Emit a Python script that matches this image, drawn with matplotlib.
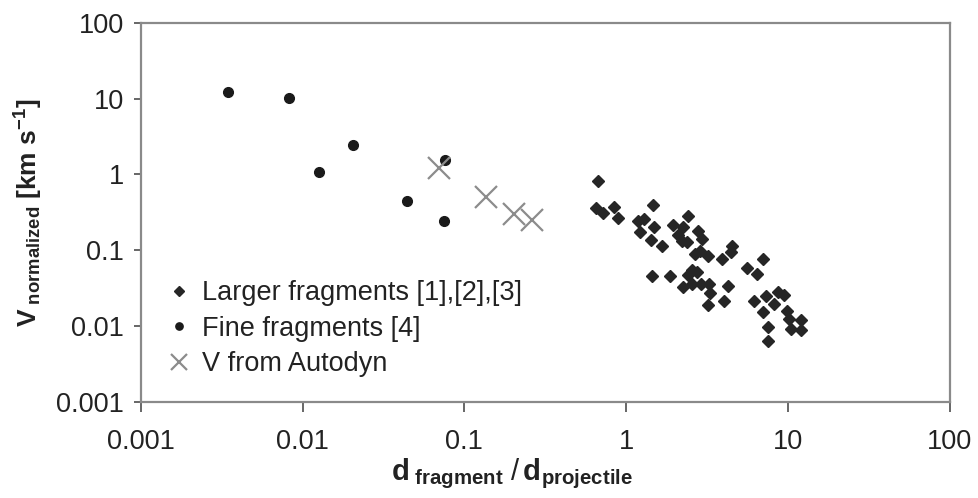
import matplotlib
matplotlib.use("Agg")
import matplotlib.pyplot as plt
from matplotlib.ticker import FixedLocator, FixedFormatter, NullLocator

plt.rcParams['font.family'] = ['Liberation Sans', 'DejaVu Sans']
plt.rcParams['mathtext.fontset'] = 'custom'
plt.rcParams['mathtext.rm'] = 'Liberation Sans'
plt.rcParams['mathtext.bf'] = 'Liberation Sans:bold'
plt.rcParams['mathtext.it'] = 'Liberation Sans:italic'

# Larger fragments [1],[2],[3]
large_x = [0.668, 0.648, 0.716, 0.838, 0.887, 1.46, 1.18, 1.28, 1.21, 1.48,
           1.42, 1.66, 2.40, 1.94, 2.24, 2.08, 2.20, 2.37, 2.77, 2.93,
           2.65, 2.85, 3.19, 4.49, 4.43, 3.89, 6.98, 5.56, 6.41, 2.54,
           2.73, 2.40, 1.44, 1.86, 2.24, 2.54, 2.89, 3.24, 3.28, 3.19,
           4.01, 4.24, 6.14, 7.28, 8.16, 8.64, 9.40, 6.98, 9.82, 10.1,
           12.0, 10.4, 12.0, 7.50, 7.50]
large_y = [0.824, 0.362, 0.311, 0.374, 0.267, 0.397, 0.244, 0.260, 0.175, 0.204,
           0.137, 0.114, 0.284, 0.216, 0.204, 0.160, 0.133, 0.129, 0.180, 0.141,
           0.0897, 0.0982, 0.0843, 0.114, 0.0953, 0.0770, 0.0770, 0.0586, 0.0489, 0.0551,
           0.0519, 0.0473, 0.0459, 0.0459, 0.0329, 0.0361, 0.0361, 0.0361, 0.0274, 0.0191,
           0.0215, 0.0339, 0.0215, 0.0250, 0.0196, 0.0283, 0.0258, 0.0154, 0.0159, 0.0124,
           0.0121, 0.00918, 0.00891, 0.00976, 0.00638]

# Fine fragments [4]
fine_x = [0.00344, 0.00824, 0.01256, 0.0205, 0.0442, 0.0759, 0.0743]
fine_y = [12.2, 10.2, 1.06, 2.46, 0.449, 1.56, 0.239]

# V from Autodyn
auto_x = [0.0695, 0.135, 0.203, 0.260]
auto_y = [1.21, 0.502, 0.302, 0.252]

tick_vals = [0.001, 0.01, 0.1, 1, 10, 100]
tick_labels = ['0.001', '0.01', '0.1', '1', '10', '100']

txt = '#222222'
spine_c = '#8a8a8a'

fig = plt.figure(figsize=(9.79, 4.98), dpi=100)
ax = fig.add_axes([140.7 / 979, 1 - 401.5 / 498, (950 - 140.7) / 979, (401.5 - 23) / 498])

ax.plot(large_x, large_y, linestyle='none', marker='D', ms=6.6, color='#262626',
        label='Larger fragments [1],[2],[3]')
ax.plot(fine_x, fine_y, linestyle='none', marker='o', ms=7.0, color='#1a1a1a',
        label='Fine fragments [4]')
ax.plot(auto_x, auto_y, linestyle='none', marker='x', ms=16, mew=1.6, color='#8c8c8c',
        label='V from Autodyn')

ax.set_xscale('log')
ax.set_yscale('log')
ax.set_xlim(0.001, 100)
ax.set_ylim(0.001, 100)
for axis in (ax.xaxis, ax.yaxis):
    axis.set_major_locator(FixedLocator(tick_vals))
    axis.set_major_formatter(FixedFormatter(tick_labels))
    axis.set_minor_locator(NullLocator())

for s in ax.spines.values():
    s.set_color(spine_c)
    s.set_linewidth(1.6)

ax.tick_params(axis='x', direction='out', length=7, width=1.4, color='#666666',
               labelsize=19.5, labelcolor=txt, pad=13)
ax.tick_params(axis='y', direction='out', length=5, width=1.4, color='#666666',
               labelsize=19.5, labelcolor=txt, pad=7)

ax.set_xlabel(r'$\mathbf{d}_{\ \mathbf{fragment}}\ /\,\mathbf{d}_{\mathbf{projectile}}$',
              fontsize=21, color=txt)
ax.xaxis.set_label_coords((512 - 140.7) / 809.3, -0.145)
ax.set_ylabel(r'$\mathbf{V}_{\ \mathbf{normalized}}\ \mathbf{[km\ s^{-1}]}$',
              fontsize=19, color=txt, labelpad=8)

leg = ax.legend(loc='lower left', bbox_to_anchor=(0.0, 0.0), frameon=False,
                fontsize=19.5, handlelength=1.0, handletextpad=0.35,
                labelspacing=0.35, borderaxespad=0.5, labelcolor=txt,
                markerscale=0.75)

fig.savefig('out.png', dpi=100)
